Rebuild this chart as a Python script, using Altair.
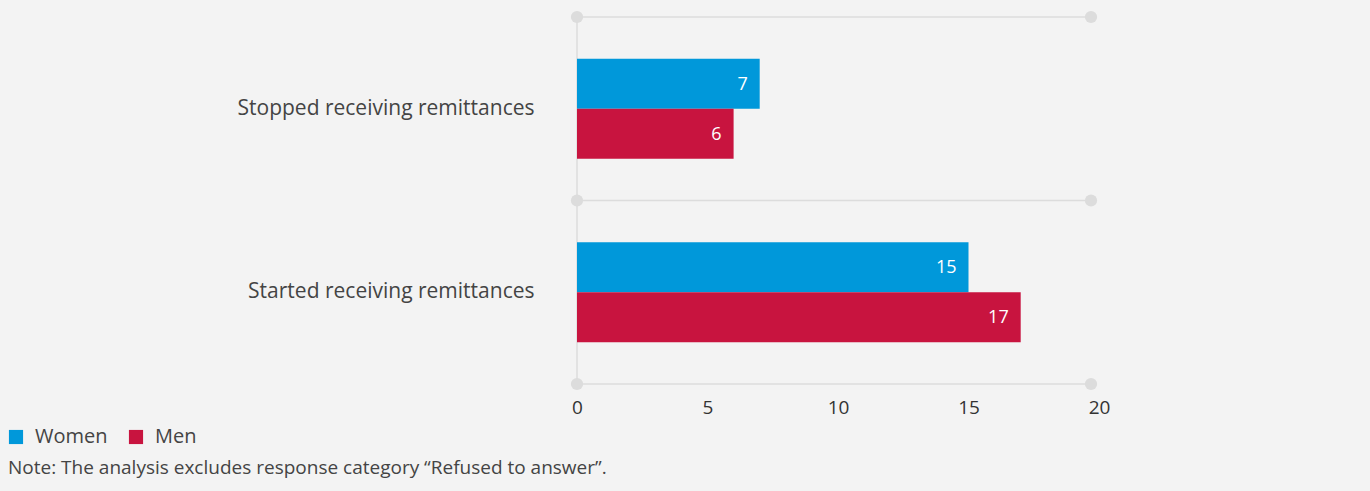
import altair as alt
import pandas as pd

categories = ["Stopped receiving remittances", "Started receiving remittances"]
groups = ["Women", "Men"]
women = [7, 15]
men = [6, 17]
colors = ["#0098da", "#c8143f"]
note = "Note: The analysis excludes response category \u201cRefused to answer\u201d."
x_ticks = [0, 5, 10, 15, 20]
boundaries = [0, 1, 2]

rows = []
for c, w, m in zip(categories, women, men):
    rows.append({"category": c, "group": "Women", "value": w})
    rows.append({"category": c, "group": "Men", "value": m})
df = pd.DataFrame(rows)

bdf = pd.DataFrame({"b": boundaries})
vline = pd.DataFrame({"b0": [boundaries[0]], "b1": [boundaries[-1]]})

FONT = "Open Sans"
GRID = "#dcdcdc"

yq = alt.Scale(domain=[boundaries[0], boundaries[-1]])

# guide lines span the plot frame (left edge to right edge)
hlines = alt.Chart(bdf).mark_rule(color=GRID, strokeWidth=1.5).encode(
    y=alt.Y("b:Q", scale=yq, axis=None),
    x=alt.value(0),
    x2=alt.value("width"),
)
vrule = alt.Chart(vline).mark_rule(color=GRID, strokeWidth=1.5).encode(
    x=alt.value(0),
    y=alt.Y("b0:Q", scale=yq, axis=None),
    y2="b1:Q",
)
dot_l = alt.Chart(bdf).mark_point(filled=True, color=GRID, size=150, opacity=1).encode(
    x=alt.value(0),
    y=alt.Y("b:Q", scale=yq, axis=None),
)
dot_r = alt.Chart(bdf).mark_point(filled=True, color=GRID, size=150, opacity=1).encode(
    x=alt.value("width"),
    y=alt.Y("b:Q", scale=yq, axis=None),
)
guides = alt.layer(hlines, vrule, dot_l, dot_r)

yband = alt.Y("category:N", sort=categories, scale=alt.Scale(paddingInner=0, paddingOuter=0),
              axis=alt.Axis(title=None, domain=False, ticks=False, labelFontSize=21,
                            labelColor="#444444", labelPadding=43, labelFont=FONT, labelLimit=500))
yoff = alt.YOffset("group:N", sort=groups, scale=alt.Scale(paddingInner=0, paddingOuter=0.835))
xenc = alt.X("value:Q", scale=alt.Scale(domain=[x_ticks[0], x_ticks[-1]], range=[0, 522]),
             axis=alt.Axis(title=None, values=x_ticks, grid=False, domain=False, ticks=False,
                           labelFontSize=19, labelColor="#333333", labelPadding=14, labelFont=FONT,
                           labelFlush=False))

bars = alt.Chart(df).mark_bar().encode(
    y=yband, yOffset=yoff, x=xenc,
    color=alt.Color("group:N", sort=groups, scale=alt.Scale(domain=groups, range=colors),
                    legend=alt.Legend(title=None, orient="none", legendX=-571, legendY=410,
                                      direction="horizontal", symbolType="square", symbolSize=200,
                                      symbolStrokeWidth=0, labelFontSize=20, labelColor="#444444",
                                      labelFont=FONT, columnPadding=18, symbolOffset=0, labelOffset=9)),
)
labels = alt.Chart(df).mark_text(align="right", baseline="middle", dx=-12, dy=1, color="white",
                                 fontSize=18, font=FONT).encode(
    y=alt.Y("category:N", sort=categories), yOffset=alt.YOffset("group:N", sort=groups),
    x="value:Q", text="value:Q",
)

main = alt.layer(bars, labels)

chart = alt.layer(guides, main).resolve_scale(y="independent").properties(
    width=514, height=367,
    background="#f3f3f3",
    autosize=alt.AutoSizeParams(type="none"),
    padding={"left": 577, "top": 17, "right": 279, "bottom": 107},
    title=alt.TitleParams(text=note, orient="bottom", anchor="start", frame="group",
                          dx=-569, offset=12, fontSize=19, fontWeight="normal",
                          color="#444444", font=FONT),
).configure_view(stroke=None)

chart.save("out.html", embed_options={"renderer": "svg", "actions": False})
